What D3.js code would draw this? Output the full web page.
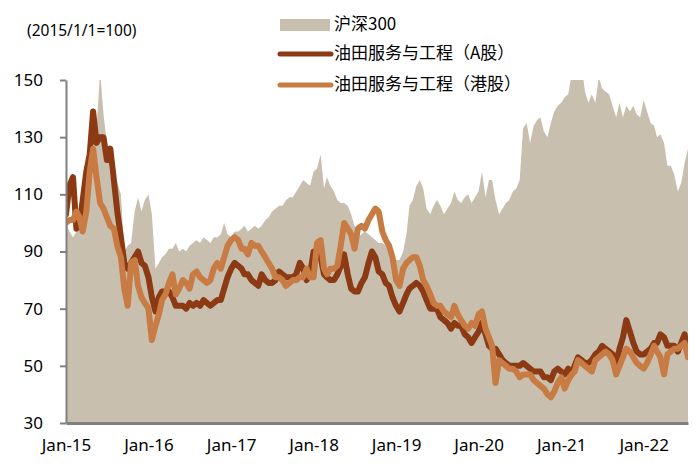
<!DOCTYPE html>
<html>
<head>
<meta charset="utf-8">
<script src="https://cdn.jsdelivr.net/npm/d3@7"></script>
<style>
  html, body { margin: 0; padding: 0; background: #fff; }
  svg { display: block; font-family: "Noto Sans", "Noto Sans CJK SC", sans-serif; }
</style>
</head>
<body>
<svg id="chart" width="698" height="464"></svg>
<script>
// ---- data (semi-monthly observations, starting 2015-01-01) ----
const startDate = "2015-01-01";
const seriesNames = ["沪深300", "油田服务与工程（A股）", "油田服务与工程（港股）"];
const hs300 = [
  100, 97, 95, 97, 99, 103, 106, 112, 122, 133,
  153, 138, 128, 116, 118, 114, 110, 90, 92, 93,
  104, 109, 104, 108, 110, 103, 84, 86, 88, 89,
  91, 91, 93, 90, 91, 90, 92, 93, 94, 93,
  95, 94, 93, 95,
  95, 96, 100, 96, 95, 97, 97, 98, 99, 97,
  98, 99, 98, 99, 101, 102, 104, 105, 106, 106,
  108, 109, 109, 111, 113, 115, 114, 113, 118, 119,
  124, 112, 116, 113, 111, 108, 107, 107, 106, 103,
  99, 95, 96, 97,
  96, 95, 94, 93, 93, 92, 90, 89, 87, 87,
  90, 96, 106, 108, 113, 115, 112, 105, 103, 106,
  108, 106, 103, 105, 107, 111, 108, 107, 109, 110,
  107, 109, 111, 118, 109, 115, 115, 108, 103, 105,
  107, 108, 111, 112, 115, 133, 135, 128,
  134, 136, 137, 132, 130, 135, 139, 141, 142, 144,
  145, 152, 153, 152, 155, 146, 142, 145, 142, 151,
  147, 146, 145, 141, 137, 142, 137, 141, 139, 141,
  138, 137, 143, 139, 135, 134, 130, 131, 128, 120,
  120, 117, 111, 114, 121, 126
];
const oilA = [
  103, 113, 116, 98, 99, 108, 118, 124, 139, 128,
  130, 130, 122, 126, 115, 104, 95, 86, 84, 86,
  88, 90, 86, 85, 81, 74, 69, 74, 76, 76,
  76, 74, 71, 71, 71, 70, 72, 71, 72, 71,
  73, 72, 71, 72,
  73, 73, 77, 81, 84, 86, 85, 84, 82, 82,
  80, 79, 78, 82, 80, 79, 79, 80, 83, 82,
  81, 81, 81, 82, 86, 84, 80, 82, 90, 89,
  88, 82, 81, 80, 80, 82, 85, 89, 82, 77,
  76, 76, 79, 81,
  86, 90, 88, 83, 82, 79, 78, 74, 71, 69,
  72, 75, 77, 78, 79, 78, 76, 73, 70, 70,
  70, 67, 66, 65, 63, 65, 64, 64, 61, 60,
  58, 60, 62, 65, 61, 57, 56, 56, 54, 52,
  51, 50, 50, 50, 50, 51, 50, 49,
  48, 48, 48, 46, 46, 45, 48, 49, 48, 47,
  49, 47, 50, 53, 52, 51, 51, 52, 54, 55,
  57, 56, 55, 54, 51, 56, 60, 66, 62, 58,
  55, 54, 54, 55, 56, 58, 58, 61, 60, 57,
  57, 57, 55, 58, 61, 55
];
const oilH = [
  100, 101, 101, 104, 102, 97, 104, 118, 126, 116,
  107, 105, 102, 99, 98, 92, 88, 77, 71, 86,
  87, 78, 74, 72, 70, 59, 64, 68, 73, 75,
  79, 82, 75, 77, 80, 79, 77, 82, 83, 81,
  80, 79, 80, 84,
  86, 84, 88, 92, 94, 95, 94, 91, 91, 89,
  93, 92, 92, 90, 88, 86, 84, 81, 81, 80,
  78, 79, 80, 80, 81, 81, 84, 81, 81, 93,
  94, 84, 82, 84, 84, 85, 92, 100, 98, 96,
  91, 98, 99, 98,
  101, 103, 105, 104, 97, 94, 92, 88, 80, 78,
  84, 86, 87, 88, 88, 85, 80, 78, 75, 72,
  71, 71, 69, 68, 67, 71, 68, 66, 64, 63,
  65, 64, 68, 69, 63, 60, 57, 44, 52, 51,
  50, 49, 49, 48, 46, 47, 47, 47,
  45, 44, 43, 42, 40, 39, 41, 44, 46, 42,
  45, 47, 48, 52, 51, 50, 49, 48, 52, 53,
  54, 55, 54, 52, 47, 50, 53, 56, 55, 53,
  51, 50, 49, 51, 54, 57, 55, 53, 47, 54,
  55, 56, 56, 57, 58, 53
];
const yTicks = [30, 50, 70, 90, 110, 130, 150];
const xTickLabels = ["Jan-15", "Jan-16", "Jan-17", "Jan-18", "Jan-19", "Jan-20", "Jan-21", "Jan-22"];
const noteText = "(2015/1/1=100)";

// ---- styles ----
const colArea = "#C9BFAF";
const colA = "#8B3A14";
const colH = "#C87B42";
const colAxis = "#808080";

// sample dates: 1st and 16th of each month
const parse = d3.timeParse("%Y-%m-%d");
const t0 = parse(startDate);
const n = hs300.length;
const dates = d3.range(n).map(i => {
  const m = d3.timeMonth.offset(t0, Math.floor(i / 2));
  return i % 2 === 0 ? m : d3.timeDay.offset(m, 15);
});
const tickDates = xTickLabels.map((_, k) => d3.timeYear.offset(t0, k));

const svg = d3.select("#chart");
const pL = 66, pR = 688, pT = 80, pB = 423;

const x = d3.scaleTime().domain([t0, dates[n - 1]]).range([pL, pR]);
const y = d3.scaleLinear().domain([30, 150]).range([pB, pT]);

svg.append("defs").append("clipPath").attr("id", "clip")
  .append("rect").attr("x", pL).attr("y", pT).attr("width", pR - pL).attr("height", pB - pT);

const plot = svg.append("g").attr("clip-path", "url(#clip)");

const area = d3.area().x((d, i) => x(dates[i])).y0(y(30)).y1(d => y(d));
plot.append("path").datum(hs300).attr("d", area).attr("fill", colArea);

const line = d3.line().x((d, i) => x(dates[i])).y(d => y(d)).curve(d3.curveLinear);
[[oilA, colA], [oilH, colH]].forEach(([s, c]) => {
  plot.append("path").datum(s).attr("d", line)
    .attr("fill", "none").attr("stroke", c).attr("stroke-width", 6)
    .attr("stroke-linejoin", "round").attr("stroke-linecap", "round");
});

// y axis
const yAxis = svg.append("g").attr("transform", `translate(${pL},0)`)
  .call(d3.axisLeft(y).tickValues(yTicks).tickSize(6).tickSizeOuter(0).tickPadding(17));
yAxis.select(".domain").attr("stroke", colAxis).attr("stroke-width", 2);
yAxis.selectAll(".tick line").attr("stroke", colAxis).attr("stroke-width", 2);
yAxis.selectAll("text").attr("font-size", 17).attr("fill", "#000")
  .attr("font-family", "'Noto Sans', sans-serif");

// x axis
const xAxis = svg.append("g").attr("transform", `translate(0,${pB})`)
  .call(d3.axisBottom(x).tickValues(tickDates).tickFormat((d, k) => xTickLabels[k])
    .tickSize(0).tickSizeOuter(0).tickPadding(16));
xAxis.select(".domain").attr("stroke", colAxis).attr("stroke-width", 3);
xAxis.selectAll("text").attr("font-size", 17).attr("fill", "#000")
  .attr("font-family", "'Noto Sans', sans-serif");

// note
svg.append("text").attr("x", 27).attr("y", 32).attr("dominant-baseline", "middle")
  .attr("font-size", 15.5).attr("fill", "#000").text(noteText);

// legend
const lg = svg.append("g");
lg.append("rect").attr("x", 280).attr("y", 19).attr("width", 50).attr("height", 12).attr("fill", colArea);
[[colA, 54], [colH, 85]].forEach(([c, yy]) => {
  lg.append("line").attr("x1", 280).attr("x2", 331).attr("y1", yy).attr("y2", yy)
    .attr("stroke", c).attr("stroke-width", 5).attr("stroke-linecap", "round");
});
[25, 54, 85].forEach((yy, k) => {
  lg.append("text").attr("x", 334).attr("y", yy).attr("dominant-baseline", "middle")
    .attr("font-size", 17).attr("fill", "#000")
    .attr("font-family", "'Noto Sans CJK SC', 'Noto Sans', sans-serif")
    .text(seriesNames[k]);
});
</script>
</body>
</html>
